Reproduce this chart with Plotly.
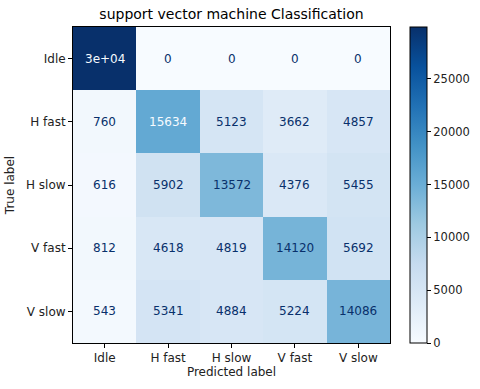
import plotly.graph_objects as go

# Confusion matrix
labels = ['Idle', 'H fast', 'H slow', 'V fast', 'V slow']
counts = [
    [29900, 0, 0, 0, 0],
    [760, 15634, 5123, 3662, 4857],
    [616, 5902, 13572, 4376, 5455],
    [812, 4618, 4819, 14120, 5692],
    [543, 5341, 4884, 5224, 14086],
]
cbar_ticks = [0, 5000, 10000, 15000, 20000, 25000]

font_family = 'DejaVu Sans'
zmax = max(max(r) for r in counts)
zmin = min(min(r) for r in counts)
thresh = (zmax + zmin) / 2

fig = go.Figure()
fig.add_trace(go.Heatmap(
    z=counts, x=labels, y=labels,
    colorscale='Blues', zmin=zmin, zmax=zmax,
    colorbar=dict(
        x=1.063, xanchor='left', y=0.5, yanchor='middle', len=1, lenmode='fraction',
        xpad=0, ypad=0,
        thickness=17, outlinecolor='black', outlinewidth=1,
        tickvals=cbar_ticks, ticktext=[str(t) for t in cbar_ticks],
        ticks='outside', ticklen=4, tickcolor='black',
        tickfont=dict(family=font_family, size=11.5, color='#222'),
    ),
    hoverinfo='z',
))

# cell labels, white on the dark cells like matplotlib does
for i, row in enumerate(counts):
    for j, v in enumerate(row):
        txt = '3e+04' if v >= 29500 else str(v)
        fig.add_annotation(
            x=labels[j], y=labels[i], text=txt, showarrow=False,
            font=dict(family=font_family, size=12,
                      color='#f7fbff' if v >= thresh else '#08306b'),
        )

axis_style = dict(
    showline=True, linecolor='black', linewidth=1, mirror=True,
    ticks='outside', ticklen=4, tickcolor='black', showgrid=False, zeroline=False,
    automargin=False,
    tickfont=dict(family=font_family, size=12, color='#222'),
)
fig.update_xaxes(title=dict(text='Predicted label', standoff=2,
                            font=dict(family=font_family, size=12, color='#222')),
                 **axis_style)
fig.update_yaxes(autorange='reversed',
                 title=dict(text='True label', standoff=8,
                            font=dict(family=font_family, size=12, color='#222')),
                 **axis_style)

fig.update_layout(
    width=480, height=389,
    margin=dict(l=73, r=90, t=27, b=46, autoexpand=False),
    title=dict(text='support vector machine Classification', x=0.5, xanchor='center',
               xref='paper', yref='container', y=1 - 14 / 389, yanchor='middle',
               font=dict(family=font_family, size=14, color='black')),
    paper_bgcolor='white', plot_bgcolor='white',
)
# drop the page's default body margin so the figure sits at the window corner
fig.write_html('out.html', config={'displayModeBar': False},
               post_script="document.body.style.margin='0';")
